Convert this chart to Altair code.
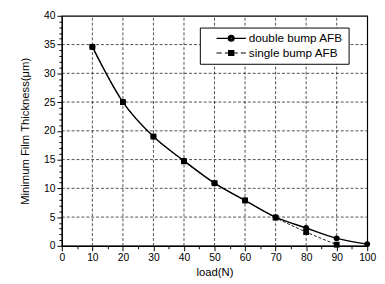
import altair as alt
import pandas as pd

loads_double = [10, 20, 30, 40, 50, 60, 70, 80, 90, 100]
film_double = [34.6, 25.0, 19.0, 14.8, 10.9, 7.9, 5.0, 3.1, 1.3, 0.3]
loads_single = [10, 20, 30, 40, 50, 60, 70, 80, 90]
film_single = [34.6, 25.0, 19.0, 14.7, 10.9, 7.9, 4.9, 2.4, 0.2]
series_names = ["double bump AFB", "single bump AFB"]
x_grid = [10, 20, 30, 40, 50, 60, 70, 80, 90]
y_grid = [5, 10, 15, 20, 25, 30, 35]

rows = []
for x, y in zip(loads_double, film_double):
    rows.append({"load": x, "h": y, "series": series_names[0]})
for x, y in zip(loads_single, film_single):
    rows.append({"load": x, "h": y, "series": series_names[1]})
df = pd.DataFrame(rows)

FONT = "Liberation Sans"
x_vals = list(range(0, 101, 5))
y_vals = list(range(0, 41, 1))

x_scale = alt.Scale(domain=[0, 100], nice=False)
y_scale = alt.Scale(domain=[0, 40], nice=False)

x_axis = alt.Axis(
    values=x_vals,
    title="load(N)",
    grid=False,
    labelExpr="datum.value % 10 == 0 ? datum.label : ''",
    tickSize={"condition": {"test": "datum.value % 10 == 0", "value": 5}, "value": 3},
    labelFlush=False,
    titlePadding=4,
)
y_axis = alt.Axis(
    values=y_vals,
    title="Minimum Film Thickness(\u03bcm)",
    grid=False,
    labelExpr="datum.value % 5 == 0 ? datum.label : ''",
    tickSize={"condition": {"test": "datum.value % 5 == 0", "value": 5}, "value": 3},
    labelFlush=False,
    titlePadding=13,
)

base = alt.Chart(df)
X = alt.X("load:Q", scale=x_scale, axis=x_axis)
Y = alt.Y("h:Q", scale=y_scale, axis=y_axis)

vgrid = alt.Chart(pd.DataFrame({"gx": x_grid})).mark_rule(
    color="#222222", strokeWidth=0.8, strokeDash=[3, 2]
).encode(
    x=alt.X("gx:Q", scale=x_scale, axis=x_axis),
    y=alt.datum(0, scale=y_scale, axis=y_axis),
    y2=alt.datum(40),
)
hgrid = alt.Chart(pd.DataFrame({"gy": y_grid})).mark_rule(
    color="#222222", strokeWidth=0.8, strokeDash=[3, 2]
).encode(
    y=alt.Y("gy:Q", scale=y_scale, axis=y_axis),
    x=alt.datum(0, scale=x_scale, axis=x_axis),
    x2=alt.datum(100),
)

line_double = base.transform_filter(alt.datum.series == series_names[0]).mark_line(
    color="black", interpolate="monotone", strokeWidth=1.4
).encode(x=X, y=Y)

line_single = base.transform_filter(alt.datum.series == series_names[1]).mark_line(
    color="black", interpolate="monotone", strokeWidth=0.9, strokeDash=[3, 2]
).encode(x=X, y=Y)

pts_double = base.transform_filter(alt.datum.series == series_names[0]).mark_point(
    filled=True, color="black", opacity=1, shape="circle", size=36
).encode(x=X, y=Y)

pts_single = base.transform_filter(alt.datum.series == series_names[1]).mark_point(
    filled=True, color="black", opacity=1, shape="square", size=36
).encode(x=X, y=Y)

# legend symbols: line + marker, in [-1, 1] symbol units (marker drawn as nested rings)
path_double = ("M-0.46,0H0.124M0.416,0H1"
               "M0.416,0A0.146,0.146 0 1,1 0.124,0A0.146,0.146 0 1,1 0.416,0"
               "M0.37,0A0.1,0.1 0 1,1 0.17,0A0.1,0.1 0 1,1 0.37,0"
               "M0.32,0A0.05,0.05 0 1,1 0.22,0A0.05,0.05 0 1,1 0.32,0")
path_single = ("M-0.46,0H-0.2M-0.05,0H0.12"
               "M0.14,-0.12H0.4V0.12H0.14Z"
               "M0.19,-0.07H0.35V0.07H0.19Z"
               "M0.24,-0.02H0.30V0.02H0.24Z"
               "M0.42,0H0.6M0.75,0H1")

legend_layer = base.transform_filter("false").mark_point(
    filled=False, color="black", strokeWidth=1.2
).encode(
    x=X, y=Y,
    shape=alt.Shape(
        "series:N",
        scale=alt.Scale(domain=series_names, range=[path_double, path_single]),
        legend=alt.Legend(
            title=None,
            orient="none",
            legendX=141,
            legendY=12,
            symbolSize=1681,
            clipHeight=12,
            symbolStrokeColor="black",
            symbolStrokeWidth=1.2,
            symbolOpacity=1,
            labelOffset=2,
            labelFont=FONT,
            labelFontSize=12,
            labelColor="black",
            rowPadding=3,
            padding=5,
            strokeColor="black",
            fillColor="white",
        ),
    ),
)

chart = alt.layer(vgrid, hgrid, line_single, line_double, pts_single, pts_double, legend_layer).properties(
    width=312,
    height=235,
    autosize=alt.AutoSizeParams(type="none"),
    padding={"left": 55, "top": 5, "right": 10, "bottom": 36},
    background="white",
).configure_view(
    stroke="black", strokeWidth=1.2
).configure_axis(
    labelFont=FONT,
    labelFontSize=10.5,
    labelColor="black",
    titleFont=FONT,
    titleFontSize=11.5,
    titleFontWeight="normal",
    titleColor="black",
    domainColor="black",
    domainWidth=1.2,
    tickColor="black",
    tickWidth=1,
    labelPadding=2,
)

chart.save("out.html", embed_options={"renderer": "svg", "actions": False})
